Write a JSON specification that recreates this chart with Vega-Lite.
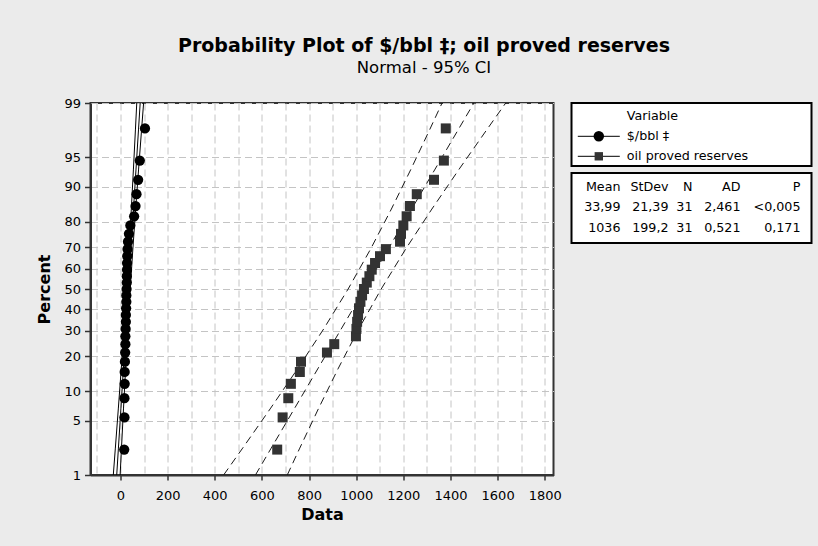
{
  "$schema": "https://vega.github.io/schema/vega-lite/v6.json",
  "background": "#EBEBEB",
  "padding": {"left": 34.5, "top": 36, "right": 6, "bottom": 23},
  "title": {
    "text": "Probability Plot of $/bbl ‡; oil proved reserves",
    "subtitle": "Normal - 95% CI",
    "anchor": "middle",
    "font": "DejaVu Sans", "fontSize": 19, "fontWeight": "bold", "color": "black",
    "subtitleFont": "DejaVu Sans", "subtitleFontSize": 16.5, "subtitleColor": "black",
    "subtitlePadding": 4.5, "offset": 19.5
  },
  "datasets": {
    "points": [
      {"series":"$/bbl ‡","z":-2.0086,"value":16},{"series":"$/bbl ‡","z":-1.606,"value":17},{"series":"$/bbl ‡","z":-1.3659,"value":17},{"series":"$/bbl ‡","z":-1.1859,"value":18},{"series":"$/bbl ‡","z":-1.0378,"value":18},{"series":"$/bbl ‡","z":-0.9096,"value":19},{"series":"$/bbl ‡","z":-0.7948,"value":20},{"series":"$/bbl ‡","z":-0.6896,"value":21},{"series":"$/bbl ‡","z":-0.5916,"value":21},{"series":"$/bbl ‡","z":-0.4989,"value":22},{"series":"$/bbl ‡","z":-0.4104,"value":23},{"series":"$/bbl ‡","z":-0.3249,"value":23},{"series":"$/bbl ‡","z":-0.2418,"value":24},{"series":"$/bbl ‡","z":-0.1603,"value":25},{"series":"$/bbl ‡","z":-0.0799,"value":25},{"series":"$/bbl ‡","z":0,"value":26},{"series":"$/bbl ‡","z":0.0799,"value":27},{"series":"$/bbl ‡","z":0.1603,"value":27},{"series":"$/bbl ‡","z":0.2418,"value":28},{"series":"$/bbl ‡","z":0.3249,"value":28},{"series":"$/bbl ‡","z":0.4104,"value":29},{"series":"$/bbl ‡","z":0.4989,"value":30},{"series":"$/bbl ‡","z":0.5916,"value":32},{"series":"$/bbl ‡","z":0.6896,"value":36},{"series":"$/bbl ‡","z":0.7948,"value":42},{"series":"$/bbl ‡","z":0.9096,"value":58},{"series":"$/bbl ‡","z":1.0378,"value":64},{"series":"$/bbl ‡","z":1.1859,"value":68},{"series":"$/bbl ‡","z":1.3659,"value":75},{"series":"$/bbl ‡","z":1.606,"value":82},{"series":"$/bbl ‡","z":2.0086,"value":104},
      {"series":"oil proved reserves","z":-2.0086,"value":665},{"series":"oil proved reserves","z":-1.606,"value":688},{"series":"oil proved reserves","z":-1.3659,"value":712},{"series":"oil proved reserves","z":-1.1859,"value":723},{"series":"oil proved reserves","z":-1.0378,"value":761},{"series":"oil proved reserves","z":-0.9096,"value":766},{"series":"oil proved reserves","z":-0.7948,"value":876},{"series":"oil proved reserves","z":-0.6896,"value":907},{"series":"oil proved reserves","z":-0.5916,"value":999},{"series":"oil proved reserves","z":-0.4989,"value":1001},{"series":"oil proved reserves","z":-0.4104,"value":1004},{"series":"oil proved reserves","z":-0.3249,"value":1008},{"series":"oil proved reserves","z":-0.2418,"value":1012},{"series":"oil proved reserves","z":-0.1603,"value":1018},{"series":"oil proved reserves","z":-0.0799,"value":1025},{"series":"oil proved reserves","z":0,"value":1033},{"series":"oil proved reserves","z":0.0799,"value":1045},{"series":"oil proved reserves","z":0.1603,"value":1056},{"series":"oil proved reserves","z":0.2418,"value":1066},{"series":"oil proved reserves","z":0.3249,"value":1080},{"series":"oil proved reserves","z":0.4104,"value":1101},{"series":"oil proved reserves","z":0.4989,"value":1126},{"series":"oil proved reserves","z":0.5916,"value":1186},{"series":"oil proved reserves","z":0.6896,"value":1190},{"series":"oil proved reserves","z":0.7948,"value":1200},{"series":"oil proved reserves","z":0.9096,"value":1214},{"series":"oil proved reserves","z":1.0378,"value":1228},{"series":"oil proved reserves","z":1.1859,"value":1257},{"series":"oil proved reserves","z":1.3659,"value":1330},{"series":"oil proved reserves","z":1.606,"value":1372},{"series":"oil proved reserves","z":2.0086,"value":1380}
    ],
    "lines": [
      {"series":"$/bbl ‡","band":"fit","z":-2.3263,"value":-15.76},{"series":"$/bbl ‡","band":"fit","z":-2,"value":-8.79},{"series":"$/bbl ‡","band":"fit","z":-1.5,"value":1.91},{"series":"$/bbl ‡","band":"fit","z":-1,"value":12.6},{"series":"$/bbl ‡","band":"fit","z":-0.5,"value":23.3},{"series":"$/bbl ‡","band":"fit","z":0,"value":33.99},{"series":"$/bbl ‡","band":"fit","z":0.5,"value":44.69},{"series":"$/bbl ‡","band":"fit","z":1,"value":55.38},{"series":"$/bbl ‡","band":"fit","z":1.5,"value":66.08},{"series":"$/bbl ‡","band":"fit","z":2,"value":76.77},{"series":"$/bbl ‡","band":"fit","z":2.3263,"value":83.74},
      {"series":"$/bbl ‡","band":"lower","z":-2.3263,"value":-30.25},{"series":"$/bbl ‡","band":"lower","z":-2,"value":-21.83},{"series":"$/bbl ‡","band":"lower","z":-1.5,"value":-9.07},{"series":"$/bbl ‡","band":"lower","z":-1,"value":3.38},{"series":"$/bbl ‡","band":"lower","z":-0.5,"value":15.31},{"series":"$/bbl ‡","band":"lower","z":0,"value":26.46},{"series":"$/bbl ‡","band":"lower","z":0.5,"value":36.7},{"series":"$/bbl ‡","band":"lower","z":1,"value":46.16},{"series":"$/bbl ‡","band":"lower","z":1.5,"value":55.1},{"series":"$/bbl ‡","band":"lower","z":2,"value":63.73},{"series":"$/bbl ‡","band":"lower","z":2.3263,"value":69.25},
      {"series":"$/bbl ‡","band":"upper","z":-2.3263,"value":-1.27},{"series":"$/bbl ‡","band":"upper","z":-2,"value":4.25},{"series":"$/bbl ‡","band":"upper","z":-1.5,"value":12.89},{"series":"$/bbl ‡","band":"upper","z":-1,"value":21.82},{"series":"$/bbl ‡","band":"upper","z":-0.5,"value":31.29},{"series":"$/bbl ‡","band":"upper","z":0,"value":41.52},{"series":"$/bbl ‡","band":"upper","z":0.5,"value":52.68},{"series":"$/bbl ‡","band":"upper","z":1,"value":64.6},{"series":"$/bbl ‡","band":"upper","z":1.5,"value":77.06},{"series":"$/bbl ‡","band":"upper","z":2,"value":89.81},{"series":"$/bbl ‡","band":"upper","z":2.3263,"value":98.23},
      {"series":"oil proved reserves","band":"fit","z":-2.3263,"value":572.7},{"series":"oil proved reserves","band":"fit","z":-2,"value":637.6},{"series":"oil proved reserves","band":"fit","z":-1.5,"value":737.2},{"series":"oil proved reserves","band":"fit","z":-1,"value":836.8},{"series":"oil proved reserves","band":"fit","z":-0.5,"value":936.4},{"series":"oil proved reserves","band":"fit","z":0,"value":1036},{"series":"oil proved reserves","band":"fit","z":0.5,"value":1135.6},{"series":"oil proved reserves","band":"fit","z":1,"value":1235.2},{"series":"oil proved reserves","band":"fit","z":1.5,"value":1334.8},{"series":"oil proved reserves","band":"fit","z":2,"value":1434.4},{"series":"oil proved reserves","band":"fit","z":2.3263,"value":1499.3},
      {"series":"oil proved reserves","band":"lower","z":-2.3263,"value":437.7},{"series":"oil proved reserves","band":"lower","z":-2,"value":516.1},{"series":"oil proved reserves","band":"lower","z":-1.5,"value":635},{"series":"oil proved reserves","band":"lower","z":-1,"value":750.9},{"series":"oil proved reserves","band":"lower","z":-0.5,"value":862},{"series":"oil proved reserves","band":"lower","z":0,"value":965.9},{"series":"oil proved reserves","band":"lower","z":0.5,"value":1061.2},{"series":"oil proved reserves","band":"lower","z":1,"value":1149.3},{"series":"oil proved reserves","band":"lower","z":1.5,"value":1232.6},{"series":"oil proved reserves","band":"lower","z":2,"value":1312.9},{"series":"oil proved reserves","band":"lower","z":2.3263,"value":1364.3},
      {"series":"oil proved reserves","band":"upper","z":-2.3263,"value":707.7},{"series":"oil proved reserves","band":"upper","z":-2,"value":759.1},{"series":"oil proved reserves","band":"upper","z":-1.5,"value":839.4},{"series":"oil proved reserves","band":"upper","z":-1,"value":922.7},{"series":"oil proved reserves","band":"upper","z":-0.5,"value":1010.8},{"series":"oil proved reserves","band":"upper","z":0,"value":1106.1},{"series":"oil proved reserves","band":"upper","z":0.5,"value":1210},{"series":"oil proved reserves","band":"upper","z":1,"value":1321.1},{"series":"oil proved reserves","band":"upper","z":1.5,"value":1437},{"series":"oil proved reserves","band":"upper","z":2,"value":1555.9},{"series":"oil proved reserves","band":"upper","z":2.3263,"value":1634.3}
    ],
    "legend": [
      {"item":"Variable"},{"item":"$/bbl ‡"},{"item":"oil proved reserves"}
    ],
    "table": [
      {"row":"header","col":"Mean","text":"Mean"},{"row":"header","col":"StDev","text":"StDev"},{"row":"header","col":"N","text":"N"},{"row":"header","col":"AD","text":"AD"},{"row":"header","col":"P","text":"P"},
      {"row":"$/bbl ‡","col":"Mean","text":"33,99"},{"row":"$/bbl ‡","col":"StDev","text":"21,39"},{"row":"$/bbl ‡","col":"N","text":"31"},{"row":"$/bbl ‡","col":"AD","text":"2,461"},{"row":"$/bbl ‡","col":"P","text":"<0,005"},
      {"row":"oil proved reserves","col":"Mean","text":"1036"},{"row":"oil proved reserves","col":"StDev","text":"199,2"},{"row":"oil proved reserves","col":"N","text":"31"},{"row":"oil proved reserves","col":"AD","text":"0,521"},{"row":"oil proved reserves","col":"P","text":"0,171"}
    ]
  },
  "hconcat": [
    {
      "width": 463,
      "height": 372,
      "layer": [
        {
          "data": {"name": "lines"},
          "transform": [{"filter": "datum.series === '$/bbl ‡'"}],
          "mark": {"type": "line", "color": "black", "strokeWidth": 1},
          "encoding": {
            "x": {"field": "value", "type": "quantitative",
              "scale": {"domain": [-127, 1837], "nice": false, "zero": false},
              "axis": {"orient": "bottom", "values": [-100,0,100,200,300,400,500,600,700,800,900,1000,1100,1200,1300,1400,1500,1600,1700,1800],
                "grid": true, "gridColor": "#C4C4C4", "gridDash": [7,4], "gridWidth": 1,
                "labels": false, "ticks": false, "domain": false, "title": null}},
            "y": {"field": "z", "type": "quantitative",
              "scale": {"domain": [-2.326348, 2.326348], "nice": false, "zero": false},
              "axis": {"orient": "left", "values": [-2.326348,-1.644854,-1.281552,-0.841621,-0.524401,-0.253347,0,0.253347,0.524401,0.841621,1.281552,1.644854,2.326348],
                "labelExpr": "format(cumulativeNormal(datum.value) * 100, '.0f')",
                "grid": true, "gridColor": "#C4C4C4", "gridDash": [7,4], "gridWidth": 1,
                "title": "Percent", "tickSize": 6, "tickWidth": 1.5, "labelPadding": 4,
                "domainWidth": 2, "titlePadding": 11.5, "labelOverlap": false}},
            "detail": {"field": "band", "type": "nominal"},
            "order": {"field": "z", "type": "quantitative"}
          }
        },
        {
          "data": {"name": "lines"},
          "transform": [{"filter": "datum.series === 'oil proved reserves'"}],
          "mark": {"type": "line", "color": "#1a1a1a", "strokeWidth": 1, "strokeDash": [8,5]},
          "encoding": {
            "x": {"field": "value", "type": "quantitative",
              "axis": {"orient": "bottom", "values": [0,200,400,600,800,1000,1200,1400,1600,1800], "format": "d",
                "grid": false, "title": "Data", "tickSize": 5, "tickWidth": 1.5, "labelPadding": 9,
                "domainWidth": 2, "labelFlush": false, "labelOverlap": false, "titlePadding": 4}},
            "y": {"field": "z", "type": "quantitative", "axis": null},
            "detail": {"field": "band", "type": "nominal"},
            "order": {"field": "z", "type": "quantitative"}
          }
        },
        {
          "data": {"name": "points"},
          "transform": [{"filter": "datum.series === '$/bbl ‡'"}],
          "mark": {"type": "point", "shape": "circle", "filled": true, "color": "black", "opacity": 1, "size": 105},
          "encoding": {
            "x": {"field": "value", "type": "quantitative", "axis": null},
            "y": {"field": "z", "type": "quantitative", "axis": null}
          }
        },
        {
          "data": {"name": "points"},
          "transform": [{"filter": "datum.series === 'oil proved reserves'"}],
          "mark": {"type": "point", "shape": "square", "filled": true, "color": "#333333", "opacity": 1, "size": 100},
          "encoding": {
            "x": {"field": "value", "type": "quantitative", "axis": null},
            "y": {"field": "z", "type": "quantitative", "axis": null}
          }
        }
      ],
      "resolve": {"axis": {"x": "independent", "y": "independent"}}
    },
    {
      "vconcat": [
        {
          "width": 240,
          "height": 63,
          "view": {"stroke": "black", "strokeWidth": 2, "fill": "white"},
          "data": {"name": "legend"},
          "layer": [
            {
              "mark": {"type": "text", "align": "left", "baseline": "middle", "font": "DejaVu Sans", "fontSize": 12.7, "color": "black"},
              "encoding": {
                "y": {"field": "item", "type": "nominal",
                  "scale": {"type": "point", "domain": ["Variable", "$/bbl ‡", "oil proved reserves"], "range": [13.3, 53.3], "padding": 0}, "axis": null},
                "x": {"datum": "label", "type": "nominal",
                  "scale": {"type": "point", "domain": ["lineStart", "g1", "g2", "symbol", "g3", "g4", "lineEnd", "label"], "range": [6.3, 55.3], "padding": 0}, "axis": null},
                "text": {"field": "item"}
              }
            },
            {
              "transform": [{"filter": "datum.item !== 'Variable'"}],
              "mark": {"type": "rule", "color": "black", "strokeWidth": 1},
              "encoding": {
                "y": {"field": "item", "type": "nominal", "axis": null},
                "x": {"datum": "lineStart", "type": "nominal", "axis": null},
                "x2": {"datum": "lineEnd"}
              }
            },
            {
              "transform": [{"filter": "datum.item !== 'Variable'"}],
              "mark": {"type": "point", "filled": true, "opacity": 1},
              "encoding": {
                "y": {"field": "item", "type": "nominal", "axis": null},
                "x": {"datum": "symbol", "type": "nominal", "axis": null},
                "shape": {"field": "item", "type": "nominal", "scale": {"domain": ["$/bbl ‡", "oil proved reserves"], "range": ["circle", "square"]}, "legend": null},
                "color": {"field": "item", "type": "nominal", "scale": {"domain": ["$/bbl ‡", "oil proved reserves"], "range": ["black", "#333333"]}, "legend": null},
                "size": {"field": "item", "type": "nominal", "scale": {"domain": ["$/bbl ‡", "oil proved reserves"], "range": [110, 70]}, "legend": null}
              }
            }
          ]
        },
        {
          "width": 240,
          "height": 70,
          "view": {"stroke": "black", "strokeWidth": 2, "fill": "white"},
          "data": {"name": "table"},
          "mark": {"type": "text", "align": "right", "baseline": "middle", "font": "DejaVu Sans", "fontSize": 12.7, "color": "black"},
          "encoding": {
            "x": {"field": "col", "type": "nominal",
              "scale": {"type": "point", "domain": ["Mean","s1","s2","s3","StDev","s4","N","s5","s6","s7","AD","s8","s9","s10","s11","P"], "range": [49, 229], "padding": 0}, "axis": null},
            "y": {"field": "row", "type": "nominal",
              "scale": {"type": "point", "domain": ["header", "$/bbl ‡", "oil proved reserves"], "range": [13.5, 54.5], "padding": 0}, "axis": null},
            "text": {"field": "text"}
          }
        }
      ],
      "spacing": 7,
      "bounds": "flush"
    }
  ],
  "spacing": 18,
  "bounds": "flush",
  "config": {
    "view": {"stroke": "#333333", "strokeWidth": 2, "fill": "white"},
    "scale": {"pointPadding": 0},
    "axis": {
      "labelFont": "DejaVu Sans", "labelFontSize": 13, "labelColor": "black",
      "titleFont": "DejaVu Sans", "titleFontSize": 16, "titleFontWeight": "bold", "titleColor": "black",
      "domainColor": "#333333", "tickColor": "#333333"
    }
  }
}
